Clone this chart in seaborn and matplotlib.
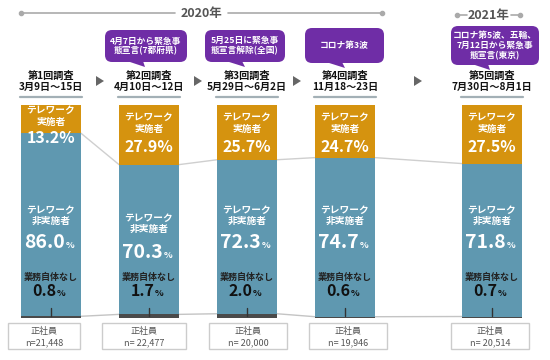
import matplotlib
matplotlib.use("Agg")
import matplotlib.pyplot as plt
import matplotlib.transforms as mtransforms
from matplotlib.patches import FancyBboxPatch, Polygon, Rectangle
import seaborn as sns
import pandas as pd

# ---------------- data ----------------
surveys = ["第1回調査", "第2回調査", "第3回調査", "第4回調査", "第5回調査"]
periods = ["3月9日～15日", "4月10日～12日", "5月29日～6月2日", "11月18～23日", "7月30日～8月1日"]
positions = [0, 1, 2, 3, 4.5]
telework = [13.2, 27.9, 25.7, 24.7, 27.5]
non_telework = [86.0, 70.3, 72.3, 74.7, 71.8]
no_work = [0.8, 1.7, 2.0, 0.6, 0.7]
group_label = "正社員"
sample_n = ["n=21,448", "n= 22,477", "n= 20,000", "n= 19,946", "n= 20,514"]
events = [None, "4月7日から緊急事\n態宣言(7都府県)", "5月25日に緊急事\n態宣言解除(全国)",
          "コロナ第3波", "コロナ第5波、五輪、\n7月12日から緊急事\n態宣言(東京)"]
years = ["2020年", "2021年"]

ORANGE = "#d5930f"
BLUE = "#5f98b0"
DARK = "#4a4a4a"
PURPLE = "#6f2da6"
GREY_TXT = "#555555"

sns.set_style("white")
plt.rcParams["font.family"] = ["Noto Sans CJK JP", "DejaVu Sans"]

df = pd.DataFrame({
    "pos": positions,
    "total": [a + b + c for a, b, c in zip(telework, non_telework, no_work)],
    "lower": [b + c for b, c in zip(non_telework, no_work)],
    "none": no_work,
})

fig = plt.figure(figsize=(5.5, 3.6), dpi=100)
ax = fig.add_axes([0, 0, 1, 1])
W = 0.61
for col, colr in [("total", ORANGE), ("lower", BLUE), ("none", DARK)]:
    sns.barplot(data=df, x="pos", y=col, native_scale=True, width=W, color=colr,
                saturation=1, errorbar=None, linewidth=0, ax=ax, zorder=2)
ax.set_xlim(-0.52, 5.092)
ax.set_ylim(-19.72, 149.3)
ax.axis("off")

# connector lines
for i in range(len(positions) - 1):
    x1 = positions[i] + W / 2
    x2 = positions[i + 1] - W / 2
    ax.plot([x1, x2], [df["lower"][i], df["lower"][i + 1]], color="#cfcfcf", lw=1, zorder=1)
    ax.plot([x1, x2], [no_work[i], no_work[i + 1]], color="#c4c4c4", lw=1, zorder=1)

# overlay axes in pixel coordinates
ov = fig.add_axes([0, 0, 1, 1], facecolor="none")
ov.set_xlim(0, 550)
ov.set_ylim(360, 0)
ov.axis("off")
trans = mtransforms.blended_transform_factory(ax.transData, ov.transData)

# ---- in-bar texts ----
for i, x in enumerate(positions):
    first = i == 0
    # telework (orange)
    ax.text(x, 116 if first else 123, "テレワーク\n実施者", transform=trans, ha="center", va="center",
            color="white", fontsize=7, fontweight="bold", linespacing=1.2, zorder=5)
    ax.text(x, 143 if first else 152, f"{telework[i]}%", transform=trans, ha="center", va="baseline",
            color="white", fontsize=11.5, fontweight="bold", zorder=5)
    # non-telework (blue)
    yl = 223 if i == 1 else 215
    yn = 258 if i == 1 else 248
    ax.text(x, yl, "テレワーク\n非実施者", transform=trans, ha="center", va="center",
            color="white", fontsize=7, fontweight="bold", linespacing=1.1, zorder=5)
    ax.annotate(f"{non_telework[i]}", xy=(x, yn), xycoords=trans, xytext=(10, 0),
                textcoords="offset points", ha="right", va="baseline", color="white",
                fontsize=14, fontweight="bold", zorder=5)
    ax.annotate("%", xy=(x, yn), xycoords=trans, xytext=(10.5, 0),
                textcoords="offset points", ha="left", va="baseline", color="white",
                fontsize=6.5, fontweight="bold", zorder=5)
    # no work
    ax.text(x, 277, "業務自体なし", transform=trans, ha="center", va="center",
            color="#222222", fontsize=6.5, fontweight="bold", zorder=5)
    ax.annotate(f"{no_work[i]}", xy=(x, 296), xycoords=trans, xytext=(4, 0),
                textcoords="offset points", ha="right", va="baseline", color="#111111",
                fontsize=11.5, fontweight="bold", zorder=5)
    ax.annotate("%", xy=(x, 296), xycoords=trans, xytext=(4.5, 0),
                textcoords="offset points", ha="left", va="baseline", color="#111111",
                fontsize=6.5, fontweight="bold", zorder=5)
    # tick line
    ax.plot([x, x], [308, 316], transform=trans, color="#333333", lw=1, zorder=5)
    # survey label
    ax.text(x, 81, f"{surveys[i]}\n{periods[i]}", transform=trans, ha="center", va="center",
            color="#111111", fontsize=7.3, fontweight="bold", linespacing=1.15, zorder=5)
    ax.plot([x - 0.32, x + 0.32], [97, 97], transform=trans, color="#a3b0b6", lw=1.6, zorder=5)

# ---- sample-size boxes (pixel coords) ----
box_cx = [44, 144, 248, 348, 490]
box_w = [72, 84, 78, 78, 78]
for cx, bw, n in zip(box_cx, box_w, sample_n):
    ov.add_patch(Rectangle((cx - bw / 2, 323), bw, 26, facecolor="white", edgecolor="#cccccc", lw=1))
    ov.text(cx, 331.5, group_label, ha="center", va="center", fontsize=6.5, color=GREY_TXT)
    ov.text(cx, 343, n, ha="center", va="center", fontsize=6.5, color=GREY_TXT)

# ---- arrows between survey labels ----
for ax_px in [100, 198, 297, 418]:
    ov.add_patch(Polygon([(ax_px - 4, 76), (ax_px - 4, 86), (ax_px + 4, 81)], closed=True,
                         facecolor="#666666", edgecolor="none"))

# ---- event bubbles ----
bubbles = [None, (105, 30, 82, 32, 127, 143, 145), (205, 30, 80, 32, 226, 242, 245),
           (305, 28, 79, 35, 326, 342, 345), (451, 26, 88, 39, 472, 488, 490)]
for ev, b in zip(events, bubbles):
    if ev is None:
        continue
    x0, y0, bw, bh, t1, t2, tip = b
    ov.add_patch(FancyBboxPatch((x0, y0), bw, bh, boxstyle="round,pad=0,rounding_size=7",
                                facecolor=PURPLE, edgecolor="none"))
    ov.add_patch(Polygon([(t1, y0 + bh - 1), (t2, y0 + bh - 1), (tip, y0 + bh + 5)], closed=True,
                         facecolor=PURPLE, edgecolor="none"))
    ov.text(x0 + bw / 2, y0 + bh / 2, ev, ha="center", va="center", color="white",
            fontsize=6.3, fontweight="bold", linespacing=1.12)

# ---- year headers ----
ov.text(201, 13, years[0], ha="center", va="center", fontsize=9, color=GREY_TXT, fontweight="bold")
ov.plot([21, 175], [13, 13], color="#aaaaaa", lw=1.2)
ov.plot([228, 382], [13, 13], color="#aaaaaa", lw=1.2)
ov.plot([21, 382], [13, 13], "o", color="#aaaaaa", ms=3)
ov.text(489, 15, years[1], ha="center", va="center", fontsize=9, color=GREY_TXT, fontweight="bold")
ov.plot([457, 467], [15, 15], color="#aaaaaa", lw=1.2)
ov.plot([511, 520], [15, 15], color="#aaaaaa", lw=1.2)
ov.plot([457, 520], [15, 15], "o", color="#aaaaaa", ms=3)

fig.savefig("out.png", dpi=100, facecolor="white")
